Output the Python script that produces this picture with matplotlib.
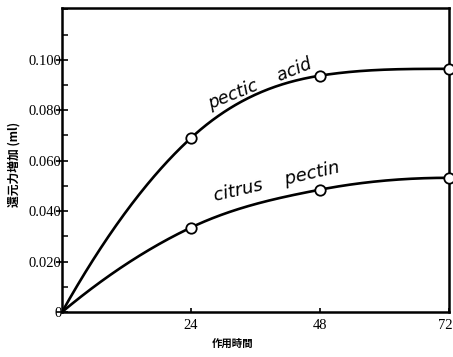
import numpy as np
import matplotlib
matplotlib.use("Agg")
import matplotlib.pyplot as plt
from matplotlib.ticker import MultipleLocator
from matplotlib.transforms import ScaledTranslation

# data
hours = [0, 24, 48, 72]
pectic_acid = [0, 0.069, 0.0937, 0.0964]
citrus_pectin = [0, 0.0335, 0.0485, 0.0532]


def smooth(x, y, xs):
    """cubic hermite curve through the points (catmull-rom tangents, limited), only for drawing"""
    x = np.asarray(x, float)
    y = np.asarray(y, float)
    h = np.diff(x)
    d = np.diff(y) / h
    m = np.zeros_like(y)
    m[1:-1] = (y[2:] - y[:-2]) / (x[2:] - x[:-2])
    m[1:-1] = np.minimum(m[1:-1], 3 * np.minimum(d[:-1], d[1:]))
    m[0] = 2 * d[0] - m[1]
    m[-1] = max(0.0, 2 * d[-1] - m[-2])
    idx = np.clip(np.searchsorted(x, xs) - 1, 0, len(h) - 1)
    t = (xs - x[idx]) / h[idx]
    h00 = 2 * t**3 - 3 * t**2 + 1
    h10 = t**3 - 2 * t**2 + t
    h01 = -2 * t**3 + 3 * t**2
    h11 = t**3 - t**2
    return h00 * y[idx] + h10 * h[idx] * m[idx] + h01 * y[idx + 1] + h11 * h[idx] * m[idx + 1]


plt.rcParams['font.family'] = ['Liberation Serif', 'Noto Sans CJK JP']

fig = plt.figure(figsize=(4.53, 3.57), dpi=100)
ax = fig.add_axes([0.1369, 0.126, 0.8543, 0.8515])

xs = np.linspace(0, 72, 400)
for series in (pectic_acid, citrus_pectin):
    ax.plot(xs, smooth(hours, series, xs), color='black', lw=1.9, zorder=2)
    ax.plot(hours[1:], series[1:], 'o', ms=7.5, mfc='white', mec='black', mew=1.3,
            zorder=3, clip_on=False)

ax.set_xlim(0, 72)
ax.set_ylim(0, 0.1205)
ax.set_xticks([24, 48, 72])
ax.set_xticklabels(['24', '48', '72'])
ax.set_yticks([0, 0.02, 0.04, 0.06, 0.08, 0.10])
ax.set_yticklabels(['0', '0.020', '0.040', '0.060', '0.080', '0.100'])
ax.yaxis.set_minor_locator(MultipleLocator(0.01))
ax.tick_params(axis='x', direction='in', length=3, width=1.2, labelsize=10.5, pad=5)
ax.tick_params(axis='y', direction='inout', length=9, width=1.2, labelsize=10.5, pad=-4)
ax.tick_params(axis='y', which='minor', direction='in', length=4, width=1.1)
for s in ax.spines.values():
    s.set_linewidth(1.8)

# the 72 label sits a little left, touching the right edge
lab72 = ax.get_xticklabels()[-1]
lab72.set_transform(lab72.get_transform() + ScaledTranslation(-0.035, 0, fig.dpi_scale_trans))

ax.set_xlabel('作用時間', family='Noto Sans CJK JP', fontsize=7.5, fontweight='bold')
ax.xaxis.set_label_coords(0.44, -0.088)
ax.set_ylabel('還元力増加 (ml)', family='Noto Sans CJK JP', fontsize=8.5, fontweight='bold')
ax.yaxis.set_label_coords(-0.106, 0.484)

ax.text(36.8, 0.0905, 'pectic    acid', rotation=22, style='italic', family='DejaVu Sans',
        fontsize=12.5, ha='center', va='center', rotation_mode='anchor')
ax.text(40.0, 0.0518, 'citrus    pectin', rotation=13, style='italic', family='DejaVu Sans',
        fontsize=13, ha='center', va='center', rotation_mode='anchor')

fig.savefig('out.png', dpi=100)
